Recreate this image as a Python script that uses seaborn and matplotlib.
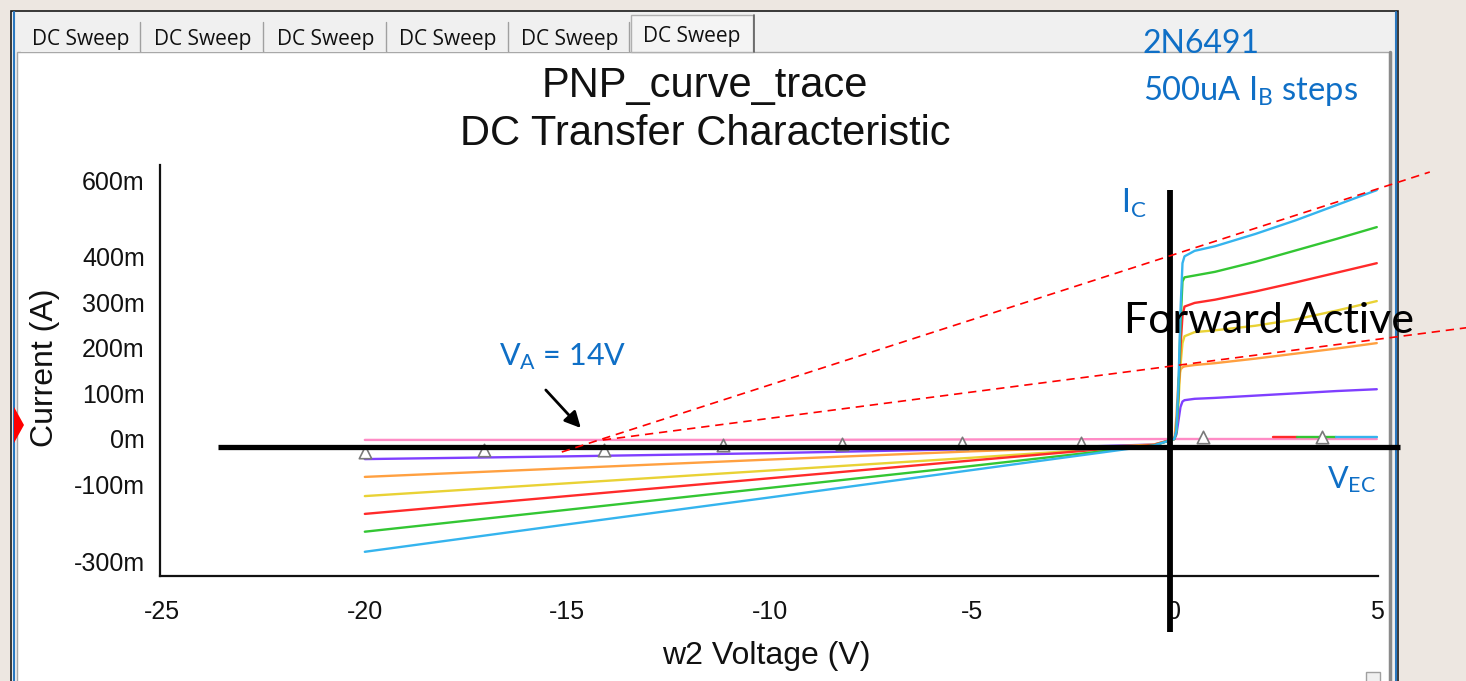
import matplotlib
matplotlib.use("Agg")
import numpy as np
import pandas as pd
import seaborn as sns
import matplotlib.pyplot as plt
from matplotlib.patches import Rectangle, Polygon
from matplotlib.lines import Line2D
from matplotlib.transforms import ScaledTranslation

# ---------------- data ----------------
v_rev = [-20, -15, -10, -5, -2, -0.5, 0]
v_fwd = [0.05, 0.1, 0.15, 0.2, 0.25, 0.5, 1, 2, 3, 4, 5]
v_all = v_rev + v_fwd

i_cyan = [-0.247, -0.187, -0.128, -0.068, -0.032, -0.014, 0.0,
          0.02, 0.12, 0.28, 0.385, 0.400, 0.412, 0.422, 0.449, 0.479, 0.512, 0.545]
i_green = [-0.203, -0.155, -0.107, -0.059, -0.029, -0.014, 0.0,
           0.015, 0.10, 0.25, 0.345, 0.354, 0.358, 0.366, 0.388, 0.413, 0.438, 0.464]
i_red = [-0.164, -0.125, -0.086, -0.047, -0.024, -0.013, 0.0,
         0.02, 0.10, 0.20, 0.27, 0.29, 0.298, 0.305, 0.323, 0.343, 0.364, 0.385]
i_yellow = [-0.125, -0.097, -0.069, -0.041, -0.023, -0.013, 0.0,
            0.02, 0.08, 0.16, 0.21, 0.225, 0.234, 0.238, 0.248, 0.262, 0.281, 0.302]
i_orange = [-0.083, -0.064, -0.045, -0.027, -0.018, -0.012, 0.0,
            0.05, 0.13, 0.152, 0.157, 0.159, 0.162, 0.166, 0.176, 0.187, 0.198, 0.21]
i_purple = [-0.044, -0.038, -0.031, -0.022, -0.016, -0.012, 0.0,
            0.01, 0.04, 0.07, 0.082, 0.085, 0.088, 0.09, 0.095, 0.1, 0.105, 0.109]

# near-zero (IB = 0) traces
v_pink = [-20, -10, 0, 5]
i_pink = [-0.002, -0.002, 0.0, 0.0]
v_zero_red = [2.43, 3.03]
i_zero_red = [0.004, 0.004]
v_zero_green = [3.03, 4.0]
i_zero_green = [0.004, 0.004]
v_zero_cyan = [4.0, 5.0]
i_zero_cyan = [0.004, 0.004]

# marker trace (PSpice triangle symbols)
v_mark = [-20.0, -17.05, -14.1, -11.15, -8.2, -5.25, -2.3, 0.7, 3.65]
i_mark = [-0.028, -0.024, -0.025, -0.013, -0.010, -0.009, -0.008, 0.004, 0.004]

x_ticks = [-25, -20, -15, -10, -5, 0, 5]
x_labels = ["-25", "-20", "-15", "-10", "-5", "0", "5"]
y_ticks = [-0.3, -0.2, -0.1, 0.0, 0.1, 0.2, 0.3, 0.4, 0.5, 0.6]
y_labels = ["-300m", "", "-100m", "0m", "100m", "200m", "300m", "400m", "", "600m"]

colors = {
    "pink": "#ff8cc6",
    "purple": "#7f3fff",
    "orange": "#ffa040",
    "yellow": "#e9d235",
    "red": "#ff2a2a",
    "green": "#33c633",
    "cyan": "#35b4ee",
    "zred": "#ff2a2a",
    "zgreen": "#33c633",
    "zcyan": "#35b4ee",
}

rows = []
def add(name, vs, is_):
    for v, i in zip(vs, is_):
        rows.append({"trace": name, "V": v, "I": i})

add("pink", v_pink, i_pink)
add("purple", v_all, i_purple)
add("orange", v_all, i_orange)
add("yellow", v_all, i_yellow)
add("red", v_all, i_red)
add("green", v_all, i_green)
add("cyan", v_all, i_cyan)
add("zred", v_zero_red, i_zero_red)
add("zgreen", v_zero_green, i_zero_green)
add("zcyan", v_zero_cyan, i_zero_cyan)
df = pd.DataFrame(rows)
df_mark = pd.DataFrame({"V": v_mark, "I": i_mark})

# ---------------- figure ----------------
sns.set_theme(style="white")
plt.rcParams["font.family"] = ["Liberation Sans", "DejaVu Sans"]

W, H = 1466, 681
fig = plt.figure(figsize=(W / 100, H / 100), dpi=100)
fig.patch.set_facecolor("#ede7e1")

def fx(x):
    return x / W

def fy(y):
    return 1 - y / H

def frect(x0, y0, x1, y1, **kw):
    r = Rectangle((fx(x0), fy(y1)), fx(x1) - fx(x0), fy(y0) - fy(y1),
                  transform=fig.transFigure, **kw)
    fig.add_artist(r)
    return r

def fline(xs, ys, **kw):
    l = Line2D([fx(x) for x in xs], [fy(y) for y in ys], transform=fig.transFigure, **kw)
    fig.add_artist(l)
    return l

# window frame
frect(11, 11, 1398, 690, facecolor="#f0f0f0", edgecolor="#1a1a1a", lw=1.2, zorder=0)
fline([14, 14], [12, 681], color="#2a78c0", lw=1.5, zorder=1)
fline([1396, 1396], [12, 681], color="#2a78c0", lw=1.5, zorder=1)
# white plot panel
frect(17, 52, 1390, 690, facecolor="white", edgecolor="#a8a8a8", lw=1.0, zorder=0.5)
fline([1390, 1390], [52, 681], color="#8a8a8a", lw=2.5, zorder=1)

# tabs
tab_edges = [20, 141, 264, 387, 509, 630, 754]
for k in range(6):
    x0, x1 = tab_edges[k], tab_edges[k + 1]
    active = (k == 5)
    top = 15 if active else 20
    frect(x0 + 1, top, x1 - 1, 52, facecolor="#f4f4f4" if active else "#f0f0f0",
          edgecolor="#b0b0b0" if active else "none", lw=1.0, zorder=1)
    if not active and k < 5:
        fline([x1 - 1, x1 - 1], [22, 51], color="#a0a0a0", lw=1.0, zorder=1.2)
    fig.text(fx((x0 + x1) / 2), fy(42 if active else 45), "DC Sweep",
             family=["Open Sans", "DejaVu Sans"], fontsize=15, color="#111111",
             ha="center", va="baseline", zorder=3)
fline([754, 754], [15, 52], color="#606060", lw=1.2, zorder=1.3)

# small scroll box at bottom right
frect(1366, 672, 1380, 686, facecolor="#f0f0f0", edgecolor="#a0a0a0", lw=1, zorder=1)

# red marker at left
fig.add_artist(Polygon([(fx(14), fy(407)), (fx(24), fy(425)), (fx(14), fy(443))],
                       closed=True, transform=fig.transFigure, facecolor="#ff0000",
                       edgecolor="none", zorder=2))

# axes
ax_l, ax_r, ax_t, ax_b = 160, 1378, 165, 576
ax = fig.add_axes([fx(ax_l), fy(ax_b), fx(ax_r) - fx(ax_l), fy(ax_t) - fy(ax_b)])
ax.set_zorder(4)
ax.patch.set_alpha(0.0)

sns.lineplot(data=df, x="V", y="I", hue="trace", palette=colors, estimator=None,
             sort=False, lw=1.7, legend=False, ax=ax, zorder=3)
sns.scatterplot(data=df_mark, x="V", y="I", marker="^", s=80, facecolor="white",
                edgecolor="#7a7a7a", linewidth=1.2, ax=ax, zorder=4, legend=False)

ax.set_xlim(-25.06, 5.03)
ax.set_ylim(-0.3, 0.6)
ax.set_xticks(x_ticks)
ax.set_xticklabels(x_labels)
ax.set_yticks(y_ticks)
ax.set_yticklabels(y_labels)
for s in ["top", "right"]:
    ax.spines[s].set_visible(False)
for s in ["left", "bottom"]:
    ax.spines[s].set_color("#111111")
    ax.spines[s].set_linewidth(1.6)
ax.tick_params(axis="both", which="major", direction="out", length=5, width=1.5,
               color="#111111", labelsize=18, labelcolor="#111111")
ax.tick_params(axis="x", pad=12)
ax.tick_params(axis="y", pad=6)
ax.set_xlabel("")
ax.set_ylabel("")

yt = ax.yaxis.get_major_ticks()
lab_top = yt[-1].label1
lab_top.set_va("top")
lab_top.set_transform(lab_top.get_transform() + ScaledTranslation(0, -0.06, fig.dpi_scale_trans))
yt[0].label1.set_va("bottom")

# axis labels / title as figure text
fig.text(fx(766), fy(656), "w2 Voltage (V)", fontsize=23, color="#111111",
         ha="center", va="center", zorder=5)
fig.text(fx(45), fy(368), "Current (A)", fontsize=23, color="#111111",
         ha="center", va="center", rotation=90, zorder=5)
fig.text(fx(705), fy(97), "PNP_curve_trace", fontsize=30, color="#111111",
         ha="center", va="baseline", zorder=5)
fig.text(fx(705), fy(145), "DC Transfer Characteristic", fontsize=30, color="#111111",
         ha="center", va="baseline", zorder=5)

# ---------------- annotations ----------------
def dx(px):
    return (px - 1174.6) / 40.48

def dy(py):
    return (439 - py) / 456.7

# red dashed extrapolation lines
ax.plot([dx(562), dx(1430)], [dy(452), dy(172)], color="#ff0000", lw=1.2,
        ls=(0, (5, 3.5)), clip_on=False, zorder=6)
ax.plot([dx(603), dx(1480)], [dy(440), dy(326)], color="#ff0000", lw=1.2,
        ls=(0, (5, 3.5)), clip_on=False, zorder=6)
# thick black axes
ax.plot([dx(218), dx(1400)], [dy(447), dy(447)], color="black", lw=3.8,
        clip_on=False, zorder=5, solid_capstyle="butt")
ax.plot([dx(1170), dx(1170)], [dy(190), dy(632)], color="black", lw=4.2,
        clip_on=False, zorder=5, solid_capstyle="butt")
# arrow
ax.annotate("", xy=(dx(581), dy(428)), xytext=(dx(546), dy(390)),
            arrowprops=dict(arrowstyle="-|>,head_length=0.8,head_width=0.4",
                            color="black", lw=2.0, shrinkA=0, shrinkB=0),
            annotation_clip=False, zorder=7)

blue = "#0f6fc6"
lato = ["Lato", "DejaVu Sans"]
fig.text(fx(1143), fy(53), "2N6491", family=lato, fontsize=23, color=blue,
         ha="left", va="baseline", zorder=8)
fig.text(fx(1143), fy(100), r"500uA $\mathregular{I_B}$ steps", family=lato, fontsize=23.5,
         color=blue, ha="left", va="baseline", zorder=8)
fig.text(fx(1121), fy(213), r"$\mathregular{I_C}$", family=lato, fontsize=23, color=blue,
         ha="left", va="baseline", zorder=8)
fig.text(fx(1124), fy(333), "Forward Active", family=lato, fontsize=31, color="black",
         ha="left", va="baseline", zorder=8)
fig.text(fx(499), fy(365), r"$\mathregular{V_A}$ = 14V", family=lato, fontsize=22,
         color=blue, ha="left", va="baseline", zorder=8)
fig.text(fx(1327), fy(488), r"$\mathregular{V_{EC}}$", family=lato, fontsize=22,
         color=blue, ha="left", va="baseline", zorder=8)

fig.savefig("out.png", dpi=100, facecolor=fig.get_facecolor())
